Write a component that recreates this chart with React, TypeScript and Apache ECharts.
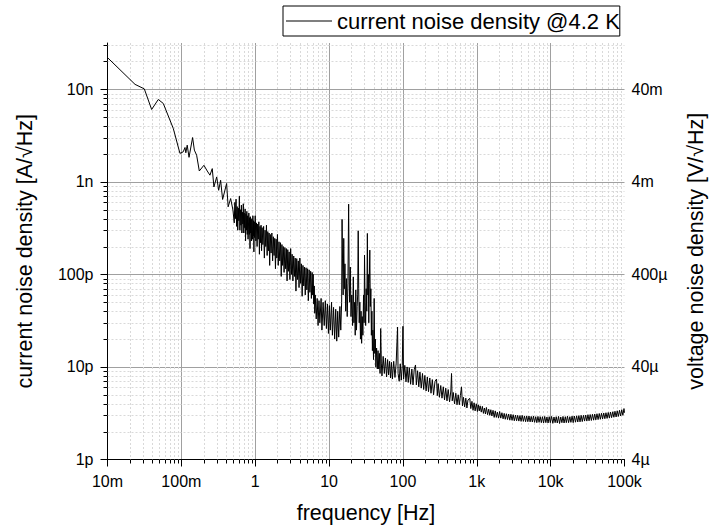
import React, { useEffect, useRef } from 'react';
import * as echarts from 'echarts';

const SERIES_NAME = 'current noise density @4.2 K';
const X_AXIS_NAME = 'frequency [Hz]';
const Y_LEFT_NAME = 'current noise density [A/√Hz]';
const Y_RIGHT_NAME = 'voltage noise density [V/√Hz]';

// tick labels per decade (x: 1e-2 .. 1e5 Hz, y: 1 .. 1e4 pA/√Hz)
const X_TICK_LABELS = ['10m', '100m', '1', '10', '100', '1k', '10k', '100k'];
const Y_LEFT_LABELS = ['1p', '10p', '100p', '1n', '10n'];
const Y_RIGHT_LABELS = ['4µ', '40µ', '400µ', '4m', '40m'];

const X_MIN = 0.01;
const X_MAX = 100000;
const Y_MIN = 1;
const Y_MAX = 31622.78;
const X_DECADES = [0.01, 0.1, 1, 10, 100, 1000, 10000];
const Y_DECADES = [1, 10, 100, 1000, 10000];
const MINOR_MULTIPLIERS = [2, 3, 4, 5, 6, 7, 8, 9];

// [frequency Hz, current noise pA/√Hz]
const lowFreq: [number, number][] = [
  [0.01, 22000], [0.0236, 11300], [0.0315, 10100], [0.0396, 6050], [0.0487, 7760],
  [0.0569, 7030], [0.0777, 3780], [0.0957, 2030], [0.106, 2110], [0.112, 2350],
  [0.115, 2060], [0.12, 2490], [0.127, 1840], [0.142, 3010], [0.15, 2200],
  [0.161, 1940], [0.175, 1310], [0.202, 1510], [0.224, 1310], [0.244, 1180],
  [0.262, 1390], [0.276, 880], [0.301, 1130], [0.32, 810], [0.34, 1040],
  [0.362, 645], [0.41, 960], [0.43, 537], [0.465, 660], [0.5, 494],
];

const flickerBand: [number, number][] = [
  [0.52, 360], [0.53, 600], [0.54, 400], [0.55, 650], [0.56, 330], [0.57, 540], [0.58, 300],
  [0.59, 520], [0.6, 380], [0.61, 700], [0.62, 300], [0.63, 500], [0.64, 340], [0.65, 560],
  [0.66, 280], [0.67, 470], [0.68, 350], [0.69, 580], [0.7, 280], [0.71, 460], [0.72, 320],
  [0.73, 510], [0.74, 230], [0.75, 450], [0.76, 300], [0.77, 480], [0.78, 270], [0.79, 430],
  [0.8, 240], [0.82, 460], [0.83, 270], [0.84, 410], [0.85, 190], [0.86, 420], [0.87, 280],
  [0.88, 390], [0.89, 230], [0.9, 400], [0.92, 240], [0.93, 430], [0.94, 260], [0.95, 380],
  [0.96, 175], [0.97, 370], [0.98, 250], [1.0, 430], [1.02, 230], [1.04, 360], [1.06, 200],
  [1.08, 350], [1.1, 240], [1.12, 370], [1.14, 165], [1.16, 330], [1.18, 220], [1.2, 340],
  [1.22, 180], [1.24, 320], [1.27, 210], [1.3, 330], [1.33, 150], [1.36, 300], [1.39, 200],
  [1.42, 340], [1.45, 160], [1.48, 290], [1.51, 180], [1.54, 280], [1.57, 125], [1.6, 270],
  [1.64, 170], [1.68, 280], [1.72, 140], [1.76, 255], [1.8, 160], [1.84, 245], [1.88, 115],
  [1.92, 240], [1.96, 150], [2.0, 270], [2.05, 125], [2.1, 225], [2.15, 140], [2.2, 220],
  [2.25, 95], [2.3, 210], [2.35, 125], [2.4, 200], [2.46, 105], [2.52, 195], [2.58, 115],
  [2.64, 190], [2.7, 85], [2.76, 185], [2.82, 108], [2.88, 175], [2.95, 88], [3.02, 190],
  [3.09, 100], [3.16, 165], [3.24, 85], [3.32, 158], [3.4, 95], [3.48, 150], [3.56, 66],
  [3.65, 148], [3.74, 88], [3.83, 140], [3.92, 72], [4.02, 150], [4.12, 80], [4.22, 130],
  [4.32, 58], [4.43, 125], [4.54, 75], [4.65, 120], [4.76, 60], [4.88, 118], [5.0, 68],
  [5.12, 115], [5.24, 52], [5.37, 112], [5.5, 64], [5.63, 108], [5.76, 55], [5.9, 105],
  [6.0, 60], [6.1, 100], [6.2, 48], [6.3, 75], [6.4, 38], [6.5, 60], [6.7, 33], [6.9, 55],
  [7.1, 28], [7.3, 52], [7.5, 30], [7.8, 55], [8.0, 25], [8.3, 50], [8.6, 28], [8.9, 52],
  [9.2, 26], [9.5, 48], [9.8, 23], [10.1, 46], [10.4, 25], [10.8, 50], [11.1, 22],
  [11.5, 44], [11.9, 20], [12.3, 42], [12.7, 19], [13.1, 40], [13.5, 21], [14.0, 45],
  [14.4, 25], [14.8, 50],
];

const humPeaks: [number, number][] = [
  [15.0, 393], [15.2, 150], [15.5, 60], [15.8, 245], [16.1, 70], [16.4, 130], [16.8, 40],
  [17.2, 90], [17.6, 35], [18.0, 80], [18.4, 574], [18.7, 100], [19.0, 50], [19.4, 120],
  [19.8, 35], [20.3, 60], [20.8, 28], [21.3, 94], [21.7, 30], [22.2, 50], [22.6, 22],
  [23.0, 68], [23.5, 25], [24.0, 45], [24.4, 60], [24.8, 296], [25.2, 70], [25.6, 30],
  [26.1, 50], [26.6, 20], [27.1, 40], [27.6, 18], [28.1, 35], [28.7, 22], [29.3, 60],
  [29.8, 30], [30.2, 162], [30.7, 50], [31.3, 28], [31.8, 70], [32.4, 40], [33.0, 277],
  [33.5, 60], [34.0, 100], [34.5, 30], [35.0, 80], [35.6, 183], [36.2, 45], [36.8, 70],
  [37.4, 22], [38.0, 40], [38.6, 15], [39.2, 25], [40.0, 12], [40.8, 55], [41.5, 14],
  [42.3, 20], [43.0, 10], [44.0, 16], [45.0, 9.5],
];

const midTail: [number, number][] = [
  [46, 15], [47, 9.5], [48, 14], [49, 8.5], [50, 26], [51, 11], [52, 8], [54, 13], [56, 8.5],
  [58, 12.5], [60, 7.8], [62, 12], [64, 8.2], [66, 11.5], [68, 7.6], [70, 11.2], [72, 7.4],
  [75, 11.5], [78, 7.7], [81, 11], [84.6, 27], [86, 8.5], [89, 7.0], [92, 10.8], [95, 7.2],
  [98, 10.4], [100, 27.5], [102, 7.4], [106, 10.4], [110, 6.9], [114, 10.0], [118, 6.8],
  [122, 9.8], [127, 6.5], [132, 9.5], [137, 6.4], [142, 9.3], [148, 10.5], [152, 6.4],
  [158, 9.1], [164, 6.1], [170, 8.8], [177, 5.9], [184, 8.5], [191, 5.7], [198, 8.1],
  [206, 5.5], [214, 7.8], [222, 5.4], [231, 7.6], [240, 5.2], [250, 7.3], [260, 5.0],
  [272, 7.0], [285, 7.4], [292, 4.9], [300, 6.6], [312, 4.7], [325, 6.3], [338, 4.6],
  [352, 6.1], [366, 4.4], [380, 5.9], [395, 4.3], [410, 5.7], [428, 4.2], [445, 5.5],
  [455, 8.5], [465, 4.3], [480, 5.3], [500, 4.0], [520, 5.2], [540, 3.9], [560, 5.0],
  [580, 3.9], [600, 4.9], [621, 6.1], [640, 3.8], [660, 4.7], [685, 3.7], [710, 4.6],
  [735, 3.6], [760, 4.4], [803, 4.58], [830, 3.55], [860, 4.25], [890, 3.4], [920, 4.1],
  [950, 3.35], [985, 4.0],
];

const whiteFloor: [number, number][] = [
  [1020, 3.3], [1050, 3.9], [1080, 3.35], [1110, 3.8], [1150, 3.25], [1190, 3.75], [1230, 3.15],
  [1270, 3.6], [1310, 3.1], [1350, 3.65], [1400, 3.05], [1450, 3.5], [1500, 3.0], [1550, 3.45],
  [1600, 2.95], [1660, 3.4], [1720, 2.85], [1780, 3.35], [1840, 2.85], [1900, 3.25], [1970, 2.8],
  [2040, 3.3], [2110, 2.8], [2190, 3.2], [2270, 2.75], [2350, 3.15], [2430, 2.72], [2520, 3.12],
  [2610, 2.7], [2700, 3.1], [2800, 2.66], [2900, 3.08], [3000, 2.65], [3110, 3.05], [3220, 2.62],
  [3340, 3.02], [3460, 2.62], [3580, 3.0], [3710, 2.6], [3840, 2.98], [3980, 2.58], [4120, 3.0],
  [4270, 2.58], [4420, 2.95], [4580, 2.56], [4740, 2.96], [4910, 2.56], [5090, 2.95], [5270, 2.55],
  [5460, 2.92], [5650, 2.54], [5850, 2.94], [6060, 2.52], [6280, 2.9], [6500, 2.5], [6730, 2.92],
  [6970, 2.52], [7220, 2.9], [7480, 2.5], [7750, 2.9], [8020, 2.48], [8310, 2.92], [8610, 2.5],
  [8910, 2.88], [9230, 2.48], [9560, 2.9], [9900, 2.5], [10300, 2.92], [10700, 2.46],
  [11100, 2.88], [11500, 2.5], [11900, 2.9], [12300, 2.48], [12800, 2.92], [13200, 2.45],
  [13700, 2.88], [14200, 2.5], [14700, 2.92], [15200, 2.48], [15800, 2.9], [16300, 2.5],
  [16900, 2.94], [17500, 2.5], [18200, 2.9], [18800, 2.52], [19500, 2.94], [20200, 2.5],
  [20900, 2.95], [21700, 2.53], [22500, 2.96], [23300, 2.54], [24100, 2.98], [25000, 2.55],
  [25900, 3.0], [26800, 2.57], [27800, 3.0], [28800, 2.6], [29800, 3.02], [30900, 2.6],
  [32000, 3.05], [33100, 2.62], [34300, 3.06], [35600, 2.64], [36800, 3.08], [38200, 2.66],
  [39500, 3.1], [40900, 2.68], [42400, 3.12], [43900, 2.7], [45500, 3.14], [47100, 2.72],
  [48800, 3.16], [50500, 2.74], [52300, 3.18], [54200, 2.76], [56100, 3.2], [58100, 2.78],
  [60200, 3.22], [62400, 2.8], [64600, 3.26], [66900, 2.83], [69300, 3.28], [71800, 2.86],
  [74300, 3.32], [77000, 2.88], [79700, 3.36], [82600, 2.92], [85500, 3.4], [88600, 2.95],
  [91700, 3.45], [95000, 3.0], [98400, 3.55], [100000, 3.2],
];

const FONT = '"Liberation Sans", Arial, sans-serif';

function decadeLabel(labels: string[], firstExp: number) {
  return (v: number) => {
    const e = Math.log10(v);
    const r = Math.round(e);
    if (Math.abs(e - r) > 1e-6) return '';
    return labels[r - firstExp] ?? '';
  };
}

export default function App() {
  const ref = useRef<HTMLDivElement>(null);

  useEffect(() => {
    if (!ref.current) return;
    const chart = echarts.init(ref.current, undefined, { renderer: 'svg' });

    const curve = [...lowFreq, ...flickerBand, ...humPeaks, ...midTail, ...whiteFloor];
    const minorX: [number, number][] = [];
    X_DECADES.forEach((d) => MINOR_MULTIPLIERS.forEach((m) => minorX.push([d * m, Y_MIN])));
    const minorY: [number, number][] = [];
    Y_DECADES.forEach((d) =>
      MINOR_MULTIPLIERS.forEach((m) => {
        if (d * m < Y_MAX) minorY.push([X_MIN, d * m]);
      })
    );

    const minorStyle = { stroke: '#d9d9d9', lineWidth: 1, lineDash: [2, 2] };

    chart.setOption({
      animation: false,
      backgroundColor: '#ffffff',
      textStyle: { fontFamily: FONT },
      grid: {
        left: 107.5,
        right: 84.5,
        top: 43,
        bottom: 69.5,
        containLabel: false,
        outerBoundsMode: 'none',
      },
      legend: {
        data: [SERIES_NAME],
        left: 283,
        top: 6,
        padding: [4, 0, 4, 3],
        borderColor: '#000',
        borderWidth: 1,
        icon: 'rect',
        itemWidth: 46,
        itemHeight: 1,
        itemStyle: { color: '#000' },
        textStyle: { fontSize: 22, color: '#000', fontFamily: FONT, padding: [2, 0, 0, 0] },
      },
      xAxis: {
        type: 'log',
        min: X_MIN,
        max: X_MAX,
        name: X_AXIS_NAME,
        nameLocation: 'middle',
        nameGap: 42,
        nameTextStyle: { fontSize: 21.5, color: '#000', fontFamily: FONT },
        axisLine: { show: true, lineStyle: { color: '#000', width: 1 } },
        axisTick: { show: true, length: 7, lineStyle: { color: '#000' } },
        axisLabel: {
          fontSize: 16,
          color: '#000',
          margin: 14,
          fontFamily: FONT,
          formatter: decadeLabel(X_TICK_LABELS, -2),
        },
        splitLine: { show: true, showMinLine: false, showMaxLine: false, lineStyle: { color: '#a0a0a0', width: 1 } },
      },
      yAxis: [
        {
          type: 'log',
          min: Y_MIN,
          max: Y_MAX,
          position: 'left',
          name: Y_LEFT_NAME,
          nameLocation: 'middle',
          nameRotate: 90,
          nameGap: 72,
          nameTextStyle: { fontSize: 21.5, color: '#000', fontFamily: FONT },
          axisLine: { show: true, lineStyle: { color: '#000', width: 1 } },
          axisTick: { show: true, length: 7, lineStyle: { color: '#000' } },
          axisLabel: {
            fontSize: 16,
            color: '#000',
            margin: 14,
            fontFamily: FONT,
            showMaxLabel: false,
            formatter: decadeLabel(Y_LEFT_LABELS, 0),
          },
          splitLine: { show: true, showMinLine: false, showMaxLine: false, lineStyle: { color: '#a0a0a0', width: 1 } },
        },
        {
          type: 'log',
          min: Y_MIN,
          max: Y_MAX,
          position: 'right',
          name: Y_RIGHT_NAME,
          nameLocation: 'middle',
          nameRotate: 90,
          nameGap: 60,
          nameTextStyle: { fontSize: 21.5, color: '#000', fontFamily: FONT },
          axisLine: { show: false },
          axisTick: { show: false },
          axisLabel: {
            fontSize: 16,
            color: '#000',
            margin: 7,
            fontFamily: FONT,
            showMaxLabel: false,
            formatter: decadeLabel(Y_RIGHT_LABELS, 0),
          },
          splitLine: { show: false },
        },
      ],
      series: [
        {
          type: 'custom',
          name: 'minorX',
          coordinateSystem: 'cartesian2d',
          xAxisIndex: 0,
          yAxisIndex: 0,
          clip: false,
          silent: true,
          z: 1,
          data: minorX,
          renderItem: (params: any, api: any) => {
            const v = api.value(0);
            const top = api.coord([v, Y_MAX]);
            const bot = api.coord([v, Y_MIN]);
            const x = Math.round(top[0]) + 0.5;
            return {
              type: 'group',
              children: [
                { type: 'line', shape: { x1: x, y1: top[1], x2: x, y2: bot[1] }, style: minorStyle },
                { type: 'line', shape: { x1: x, y1: bot[1], x2: x, y2: bot[1] + 4 }, style: { stroke: '#000', lineWidth: 1 } },
              ],
            };
          },
        },
        {
          type: 'custom',
          name: 'minorY',
          coordinateSystem: 'cartesian2d',
          xAxisIndex: 0,
          yAxisIndex: 0,
          clip: false,
          silent: true,
          z: 1,
          data: minorY,
          renderItem: (params: any, api: any) => {
            const v = api.value(1);
            const l = api.coord([X_MIN, v]);
            const r = api.coord([X_MAX, v]);
            const y = Math.round(l[1]) + 0.5;
            return {
              type: 'group',
              children: [
                { type: 'line', shape: { x1: l[0], y1: y, x2: r[0], y2: y }, style: minorStyle },
                { type: 'line', shape: { x1: l[0] - 4, y1: y, x2: l[0], y2: y }, style: { stroke: '#000', lineWidth: 1 } },
              ],
            };
          },
        },
        {
          type: 'line',
          name: SERIES_NAME,
          data: curve,
          xAxisIndex: 0,
          yAxisIndex: 0,
          symbol: 'none',
          showSymbol: false,
          z: 3,
          lineStyle: { color: '#000', width: 1 },
          itemStyle: { color: '#000' },
        },
      ],
    });

    return () => chart.dispose();
  }, []);

  return (
    <div
      ref={ref}
      style={{ position: 'fixed', left: 0, top: 0, width: 709, height: 529, background: '#fff' }}
    />
  );
}
